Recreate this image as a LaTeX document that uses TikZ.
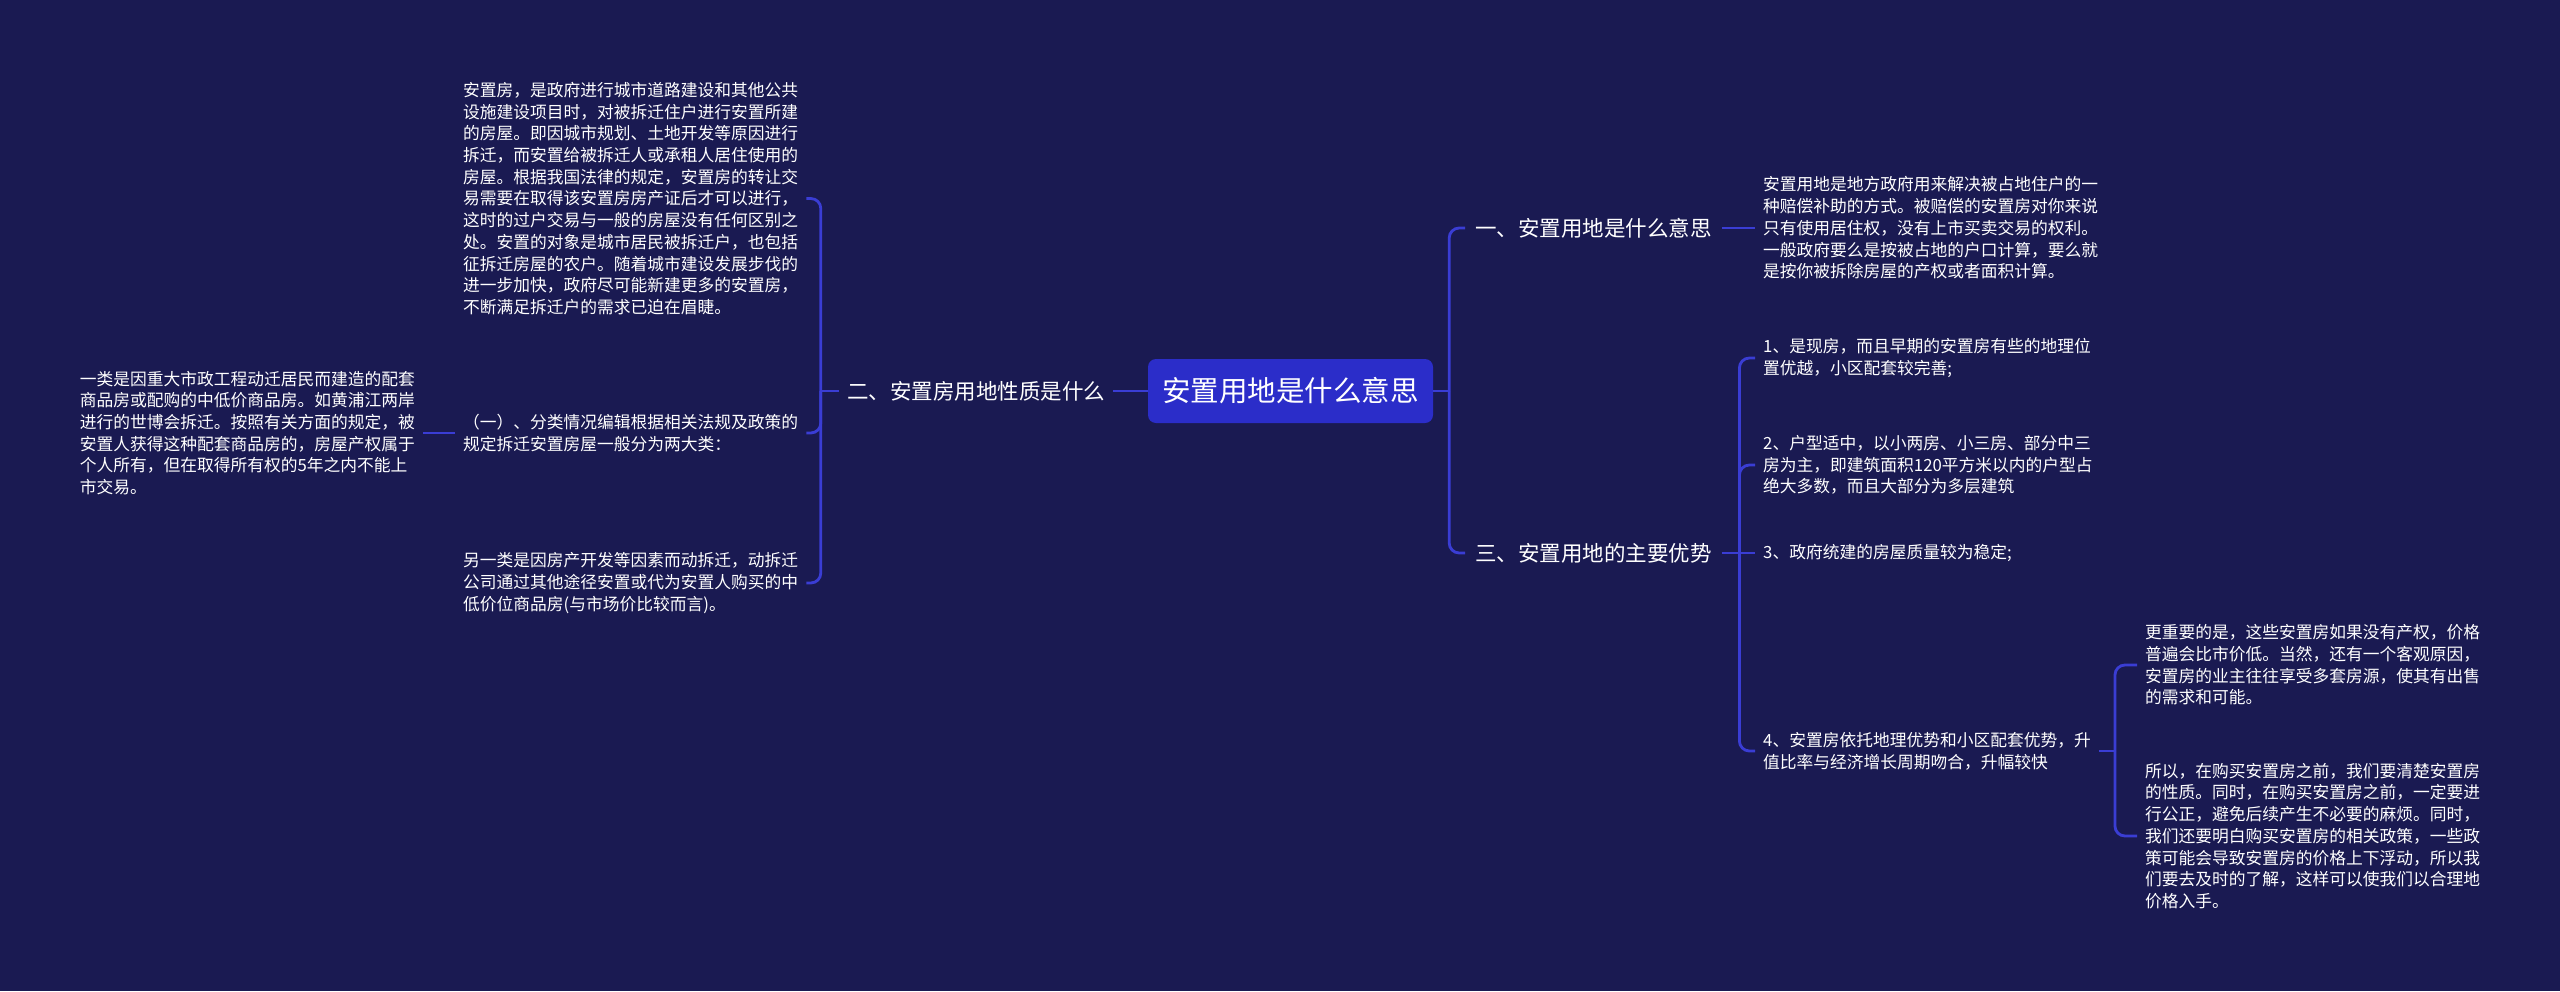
\documentclass[tikz,border=0pt]{standalone}
\usepackage{fontspec}
\setmainfont{Noto Sans CJK SC}
\definecolor{bg}{HTML}{1A1A52}
\definecolor{ln}{HTML}{3A3DD4}
\definecolor{cbox}{HTML}{2B2DC9}
\begin{document}
\begin{tikzpicture}[x=1pt,y=-1pt,
  conn/.style={draw=ln, line width=2.8pt},
  bconn/.style={draw=ln, line width=2.8pt, rounded corners=10pt},
  txt/.style={text=white, align=left, inner xsep=8pt, inner ysep=2pt, font=\fontsize{16.75}{21.7}\selectfont},
  topic/.style={text=white, inner xsep=10pt, inner ysep=4pt, font=\fontsize{21.5}{26}\selectfont}]

\fill[bg] (0,0) rectangle (2560,991);
\useasboundingbox (0,0) rectangle (2560,991);

% central
\node[fill=cbox, rounded corners=8pt, minimum width=285pt, minimum height=64pt, inner sep=0pt, text=white, font=\fontsize{28.5}{34}\selectfont] (c) at (1290.5,391) {安置用地是什么意思};

% topics
\node[topic, inner xsep=8pt] (n2) at (976,391) {二、安置房用地性质是什么};
\node[topic, anchor=west] (n1) at (1465,228) {一、安置用地是什么意思};
\node[topic, anchor=west] (n3) at (1465,553) {三、安置用地的主要优势};

% left side texts
\node[txt, anchor=west] (a) at (455,198.5) {安置房，是政府进行城市道路建设和其他公共\\设施建设项目时，对被拆迁住户进行安置所建\\的房屋。即因城市规划、土地开发等原因进行\\拆迁，而安置给被拆迁人或承租人居住使用的\\房屋。根据我国法律的规定，安置房的转让交\\易需要在取得该安置房房产证后才可以进行，\\这时的过户交易与一般的房屋没有任何区别之\\处。安置的对象是城市居民被拆迁户，也包括\\征拆迁房屋的农户。随着城市建设发展步伐的\\进一步加快，政府尽可能新建更多的安置房，\\不断满足拆迁户的需求已迫在眉睫。};
\node[txt, anchor=west] (cl) at (455,433) {（一）、分类情况编辑根据相关法规及政策的\\规定拆迁安置房屋一般分为两大类：};
\node[txt, anchor=west] (d) at (455,583) {另一类是因房产开发等因素而动拆迁，动拆迁\\公司通过其他途径安置或代为安置人购买的中\\低价位商品房(与市场价比较而言)。};
\node[txt, anchor=east] (b) at (423,433) {一类是因重大市政工程动迁居民而建造的配套\\商品房或配购的中低价商品房。如黄浦江两岸\\进行的世博会拆迁。按照有关方面的规定，被\\安置人获得这种配套商品房的，房屋产权属于\\个人所有，但在取得所有权的5年之内不能上\\市交易。};

% right side texts
\node[txt, anchor=west] (e) at (1755,228) {安置用地是地方政府用来解决被占地住户的一\\种赔偿补助的方式。被赔偿的安置房对你来说\\只有使用居住权，没有上市买卖交易的权利。\\一般政府要么是按被占地的户口计算，要么就\\是按你被拆除房屋的产权或者面积计算。};
\node[txt, anchor=west] (k1) at (1755,358) {1、是现房，而且早期的安置房有些的地理位\\置优越，小区配套较完善;};
\node[txt, anchor=west] (k2) at (1755,465) {2、户型适中，以小两房、小三房、部分中三\\房为主，即建筑面积120平方米以内的户型占\\绝大多数，而且大部分为多层建筑};
\node[txt, anchor=west] (k3) at (1755,553) {3、政府统建的房屋质量较为稳定;};
\node[txt, anchor=west] (k4) at (1755,751) {4、安置房依托地理优势和小区配套优势，升\\值比率与经济增长周期吻合，升幅较快};
\node[txt, anchor=west] (f) at (2137,665) {更重要的是，这些安置房如果没有产权，价格\\普遍会比市价低。当然，还有一个客观原因，\\安置房的业主往往享受多套房源，使其有出售\\的需求和可能。};
\node[txt, anchor=west] (g) at (2137,836) {所以，在购买安置房之前，我们要清楚安置房\\的性质。同时，在购买安置房之前，一定要进\\行公正，避免后续产生不必要的麻烦。同时，\\我们还要明白购买安置房的相关政策，一些政\\策可能会导致安置房的价格上下浮动，所以我\\们要去及时的了解，这样可以使我们以合理地\\价格入手。};

% connectors left
\draw[conn] (c.west) -- (n2.east);
\draw[conn] (n2.west) -- ++(-18,0) coordinate (b2);
\draw[bconn] (b2) |- (a.east);
\draw[bconn] (b2) |- (cl.east);
\draw[bconn] (b2) |- (d.east);
\draw[conn] (cl.west) -- (b.east);

% connectors right
\draw[conn] (c.east) -- ++(16,0) coordinate (b0);
\draw[bconn] (b0) |- (n1.west);
\draw[bconn] (b0) |- (n3.west);
\draw[conn] (n1.east) -- (e.west);
\draw[conn] (n3.east) -- ++(17.5,0) coordinate (b3);
\draw[bconn] (b3) |- (k1.west);
\draw[bconn] (b3) |- (k2.west);
\draw[conn] (b3) -- (k3.west);
\draw[bconn] (b3) |- (k4.west);
\draw[conn] (k4.east) -- ++(16,0) coordinate (b4);
\draw[bconn] (b4) |- (f.west);
\draw[bconn] (b4) |- (g.west);
\end{tikzpicture}
\end{document}
